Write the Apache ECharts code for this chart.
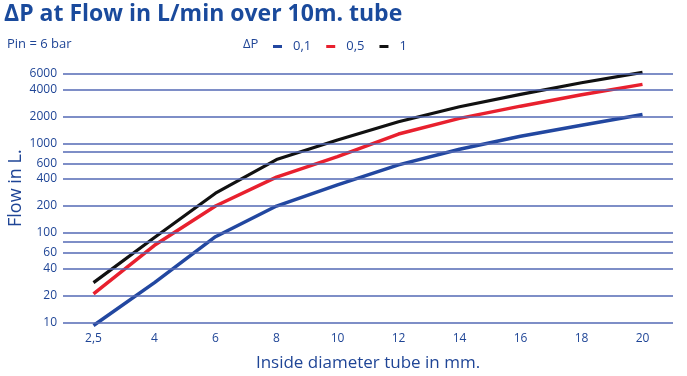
<!DOCTYPE html>
<html>
<head>
<meta charset="utf-8">
<script src="https://cdn.jsdelivr.net/npm/echarts@6/dist/echarts.min.js"></script>
<style>
  html, body { margin: 0; padding: 0; background: #fff; }
  #chart { width: 687px; height: 376px; }
</style>
</head>
<body>
<div id="chart"></div>
<script>
// inside diameter categories (mm)
const diameters = ['2,5', '4', '6', '8', '10', '12', '14', '16', '18', '20'];
// flow in L/min per pressure drop
const flow01 = [9.3, 28, 91, 200, 345, 575, 860, 1200, 1590, 2100];
const flow05 = [21, 73, 200, 420, 710, 1270, 1900, 2600, 3480, 4550];
const flow1 = [28, 89, 278, 660, 1090, 1740, 2560, 3520, 4740, 6200];
// horizontal reference lines and which get a label
const gridValues = [10, 20, 40, 60, 80, 100, 200, 400, 600, 800, 1000, 2000, 4000, 6000];
const hiddenLabels = [80, 800];

const blue = '#1f4596';
const font = '"Open Sans", sans-serif';

const chart = echarts.init(document.getElementById('chart'));

const lineSeries = (name, data, color, width) => ({
  name,
  type: 'line',
  data,
  symbol: 'none',
  clip: false,
  z: 3,
  lineStyle: { color, width },
  itemStyle: { color },
});

const label = (text, x, y, size, weight, color) => ({
  type: 'text',
  x,
  y,
  silent: true,
  style: {
    text,
    fill: color,
    font: `${weight} ${size}px ${font}`,
    textVerticalAlign: 'top',
  },
});

const option = {
  animation: false,
  graphic: [
    label('ΔP at Flow in L/min over 10m. tube', 4, 3, 23, 'bold', '#1a4a9c'),
    label('Pin = 6 bar', 7, 38, 13, 'normal', blue),
    label('ΔP', 243, 38, 13, 'normal', blue),
  ],
  legend: {
    data: ['0,1', '0,5', '1'],
    left: 273,
    top: 40,
    padding: 0,
    icon: 'rect',
    itemWidth: 9,
    itemHeight: 3,
    itemGap: 15,
    textStyle: { fontFamily: font, fontSize: 13, color: blue, padding: [0, 0, 0, 6] },
  },
  grid: { left: 63, right: 14, top: 53.7, bottom: 53.3, outerBoundsMode: 'none', containLabel: false },
  xAxis: {
    type: 'category',
    data: diameters,
    boundaryGap: true,
    name: 'Inside diameter tube in mm.',
    nameLocation: 'middle',
    nameGap: 32,
    nameTextStyle: { fontFamily: font, fontSize: 17, color: blue },
    axisLine: { show: false },
    axisTick: { show: false },
    axisLabel: { fontFamily: font, fontSize: 12, color: blue, margin: 10 },
  },
  yAxis: {
    type: 'log',
    logBase: 10,
    min: 10,
    max: 10000,
    name: 'Flow in L.',
    nameLocation: 'middle',
    nameGap: 38,
    nameTextStyle: { fontFamily: font, fontSize: 18, color: blue },
    axisLine: { show: false },
    axisTick: { show: false },
    axisLabel: { show: false },
    splitLine: { show: false },
  },
  series: [
    {
      name: 'grid',
      type: 'line',
      data: diameters.map(() => null),
      z: 1,
      silent: true,
      markLine: {
        silent: true,
        symbol: 'none',
        animation: false,
        lineStyle: { color: '#5369b4', width: 1.5, type: 'solid' },
        label: {
          position: 'start',
          distance: 6,
          fontFamily: font,
          fontSize: 12,
          color: blue,
          formatter: (p) => (hiddenLabels.includes(p.value) ? '' : String(p.value)),
        },
        data: gridValues.map((v) => ({ yAxis: v })),
      },
    },
    lineSeries('0,1', flow01, '#2247a0', 3.5),
    lineSeries('0,5', flow05, '#e8202e', 3.5),
    lineSeries('1', flow1, '#111111', 3.2),
  ],
};

chart.setOption(option);
</script>
</body>
</html>
